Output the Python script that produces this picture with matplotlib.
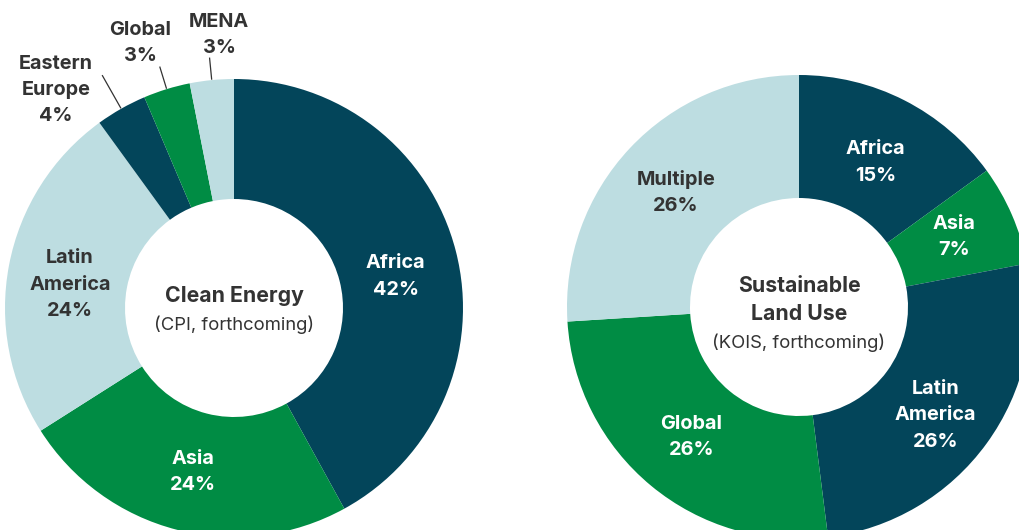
import numpy as np
import matplotlib.pyplot as plt

# left donut: Clean Energy (CPI, forthcoming)
ce_regions = ["Africa", "Asia", "Latin\nAmerica", "Eastern\nEurope", "Global", "MENA"]
ce_values = [42, 24, 24, 3.6, 3.3, 3.1]
ce_pct = ["42%", "24%", "24%", "4%", "3%", "3%"]

# right donut: Sustainable Land Use (KOIS, forthcoming)
lu_regions = ["Africa", "Asia", "Latin\nAmerica", "Global", "Multiple"]
lu_values = [15, 7, 26, 26, 26]
lu_pct = ["15%", "7%", "26%", "26%", "26%"]

navy = "#03455a"
green = "#008c44"
light = "#bddde1"
dark = "#333333"

ce_colors = [navy, green, light, navy, green, light]
lu_colors = [navy, green, navy, green, light]

plt.rcParams["font.family"] = ["Inter", "DejaVu Sans"]

fig = plt.figure(figsize=(10.2, 5.3), dpi=100)
ax = fig.add_axes([0, 0, 1, 1])

R = 229
W = 120
c1 = (234, 222)
c2 = (799, 223)
fs = 14.3
ls = 1.6

w1, _ = ax.pie(ce_values, colors=ce_colors, startangle=90, counterclock=False,
               center=c1, radius=R, wedgeprops=dict(width=W, linewidth=0))
w2, _ = ax.pie(lu_values, colors=lu_colors, startangle=90, counterclock=False,
               center=c2, radius=R + 3, wedgeprops=dict(width=W + 3, linewidth=0))

ax.set_xlim(0, 1020)
ax.set_ylim(0, 530)
ax.set_aspect("equal")
ax.axis("off")


def inside_labels(wedges, names, pcts, colors, center, rad, nudge):
    for w, n, p, col, dy in zip(wedges, names, pcts, colors, nudge):
        mid = np.deg2rad((w.theta1 + w.theta2) / 2)
        x = center[0] + rad * np.cos(mid)
        y = center[1] + rad * np.sin(mid) - dy
        tc = dark if col == light else "white"
        ax.text(x, y, n + "\n" + p, ha="center", va="center", color=tc,
                fontsize=fs, fontweight="bold", linespacing=ls)


inside_labels(w1[:3], ce_regions[:3], ce_pct[:3], ce_colors[:3], c1, 167,
              [10, 2, 8])
inside_labels(w2, lu_regions, lu_pct, lu_colors, c2, 169,
              [6, -3, 9, 0, 1])

# small slices on the left donut get leader lines
ends = [38, 23, 22]
for w, e in zip(w1[3:], ends):
    mid = np.deg2rad((w.theta1 + w.theta2) / 2)
    ax.plot([c1[0] + (R + 1) * np.cos(mid), c1[0] + (R + e) * np.cos(mid)],
            [c1[1] + (R + 1) * np.sin(mid), c1[1] + (R + e) * np.sin(mid)],
            color=dark, lw=0.9)

ax.text(56, 440, ce_regions[3] + "\n" + ce_pct[3], ha="center", va="center",
        color=dark, fontsize=fs, fontweight="bold", linespacing=ls)
ax.text(140, 487, ce_regions[4] + "\n" + ce_pct[4], ha="center", va="center",
        color=dark, fontsize=fs, fontweight="bold", linespacing=ls)
ax.text(219, 495, ce_regions[5] + "\n" + ce_pct[5], ha="center", va="center",
        color=dark, fontsize=fs, fontweight="bold", linespacing=ls)

# centre titles
ax.text(c1[0], 234, "Clean Energy", ha="center", va="center", color=dark,
        fontsize=15.3, fontweight="bold")
ax.text(c1[0], 205, "(CPI, forthcoming)", ha="center", va="center", color=dark,
        fontsize=13.3)
ax.text(c2[0], 230, "Sustainable\nLand Use", ha="center", va="center", color=dark,
        fontsize=15.3, fontweight="bold", linespacing=1.45)
ax.text(c2[0], 187, "(KOIS, forthcoming)", ha="center", va="center", color=dark,
        fontsize=13.3)

fig.savefig("out.png", dpi=100)
